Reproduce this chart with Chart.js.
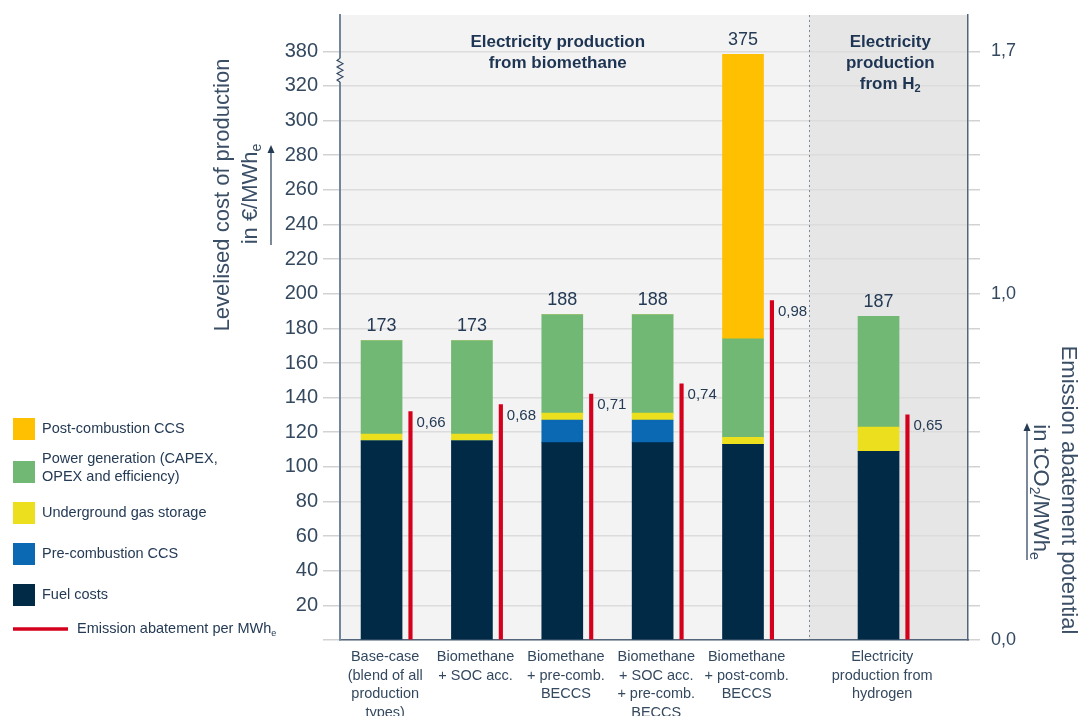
<!DOCTYPE html>
<html>
<head>
<meta charset="utf-8">
<script src="https://cdn.jsdelivr.net/npm/chart.js@4.4.0/dist/chart.umd.min.js"></script>
<style>
  html, body { margin: 0; padding: 0; background: #fff; }
  canvas { display: block; }
</style>
</head>
<body>
<canvas id="lcoeChart" width="1081" height="716"></canvas>
<script>
// x axis categories (one entry per bar, split in lines)
var categories = [
	['Base-case', '(blend of all', 'production', 'types)'],
	['Biomethane', '+ SOC acc.'],
	['Biomethane', '+ pre-comb.', 'BECCS'],
	['Biomethane', '+ SOC acc.', '+ pre-comb.', 'BECCS'],
	['Biomethane', '+ post-comb.', 'BECCS'],
	['Electricity', 'production from', 'hydrogen']
];
// 0 = electricity from biomethane, 1 = electricity from H2
var groupOf = [0, 0, 0, 0, 0, 1];

// levelised cost components, EUR/MWh_e (stacked bottom -> top)
var fuelCosts   = [115, 115, 114, 114, 113, 109];
var preCombCCS  = [0, 0, 13, 13, 0, 0];
var gasStorage  = [4, 4, 4, 4, 4, 14];
var powerGen    = [54, 54, 57, 57, 57, 64];
var postCombCCS = [0, 0, 0, 0, 201, 0];

// emission abatement, tCO2/MWh_e
var abatement = [0.66, 0.68, 0.71, 0.74, 0.98, 0.65];

// tick values
var costTicks = [0, 20, 40, 60, 80, 100, 120, 140, 160, 180, 200, 220, 240, 260, 280, 300, 320, 380];
var abatementTicks = [0, 0.1, 0.2, 0.3, 0.4, 0.5, 0.6, 0.7, 0.8, 0.9, 1, 1.1, 1.2, 1.3, 1.4, 1.5, 1.6, 1.7];
var abatementLabelled = [0, 1, 1.7];

var FONT = "'Liberation Sans', Arial, sans-serif";
var TEXT = '#243a55';
var TICK = '#34495f';
var colors = {
	fuel: '#012a47',
	pre: '#0a69b2',
	storage: '#ebdf1e',
	power: '#70b873',
	post: '#fec000',
	red: '#d5001c'
};

// axis break: everything above 320 is squeezed 3:1
var breakAt = 320, breakRatio = 3;
var squash = function(v) {
	return v <= breakAt ? v : breakAt + (v - breakAt) / breakRatio;
};
var unsquash = function(v) {
	return v <= breakAt ? v : breakAt + (v - breakAt) * breakRatio;
};

class BrokenScale extends Chart.LinearScale {
	getPixelForValue(value) {
		if (value === null || value === undefined || isNaN(value)) return NaN;
		return this.getPixelForDecimal((squash(value) - squash(this.min)) / (squash(this.max) - squash(this.min)));
	}
	getValueForPixel(pixel) {
		var d = this.getDecimalForPixel(pixel);
		return unsquash(squash(this.min) + d * (squash(this.max) - squash(this.min)));
	}
}
BrokenScale.id = 'broken';
BrokenScale.defaults = {};
Chart.register(BrokenScale);

// horizontal layout in "slot" units
var groupGap = 0.5;
var redOffset = 0.32;
var dividerAt = 4.73;
var slot = function(i) { return i + groupOf[i] * groupGap; };

var topCompressed = 361;                 // compressed cost value at top of plot
var yMax = unsquash(topCompressed);
var y2Max = topCompressed / 200;         // 200 EUR/MWh grid line == 1,0 t

var toPoints = function(arr, off) {
	return arr.map(function(v, i) { return { x: slot(i) + (off || 0), y: v }; });
};

var fmt = function(v, d) { return v.toFixed(d).replace('.', ','); };

// fixed axis sizes so the plot sits where the original one does
var fixWidth = function(w) {
	return function(s) {
		s.width = w;
		s.paddingTop = 0;
		s.paddingBottom = 0;
	};
};

/*
* draw a text made of parts, some of them subscript, centred or left aligned at x
*/
function drawRich(ctx, parts, x, y, size, weight, align) {
	var w = 0;
	parts.forEach(function(p) {
		ctx.font = weight + ' ' + (p.sub ? Math.round(size * 0.62) : size) + 'px ' + FONT;
		p.w = ctx.measureText(p.t).width;
		w += p.w;
	});
	var cx = align === 'left' ? x : x - w / 2;
	ctx.textAlign = 'left';
	ctx.textBaseline = 'middle';
	parts.forEach(function(p) {
		ctx.font = weight + ' ' + (p.sub ? Math.round(size * 0.62) : size) + 'px ' + FONT;
		ctx.fillText(p.t, cx, y + (p.sub ? size * 0.3 : 0));
		cx += p.w;
	});
}

function arrowUp(ctx, x, y1, y2) {
	ctx.save();
	ctx.strokeStyle = TEXT;
	ctx.fillStyle = TEXT;
	ctx.lineWidth = 1.2;
	ctx.beginPath();
	ctx.moveTo(x, y1);
	ctx.lineTo(x, y2 + 6);
	ctx.stroke();
	ctx.beginPath();
	ctx.moveTo(x, y2);
	ctx.lineTo(x - 3.5, y2 + 8);
	ctx.lineTo(x + 3.5, y2 + 8);
	ctx.closePath();
	ctx.fill();
	ctx.restore();
}

var decorations = {
	id: 'decorations',
	beforeDraw: function(chart) {
		var ctx = chart.ctx, a = chart.chartArea, xs = chart.scales.x;
		var xd = xs.getPixelForValue(dividerAt);
		ctx.save();
		ctx.fillStyle = '#f3f3f3';
		ctx.fillRect(a.left, a.top, xd - a.left, a.bottom - a.top);
		ctx.fillStyle = '#e6e6e6';
		ctx.fillRect(xd, a.top, a.right - xd, a.bottom - a.top);
		ctx.restore();
	},
	beforeDatasetsDraw: function(chart) {
		var ctx = chart.ctx, a = chart.chartArea, xs = chart.scales.x;
		var xd = Math.round(xs.getPixelForValue(dividerAt)) + 0.5;
		ctx.save();
		ctx.strokeStyle = '#7d8c9c';
		ctx.lineWidth = 1;
		ctx.setLineDash([2, 3]);
		ctx.beginPath();
		ctx.moveTo(xd, a.top);
		ctx.lineTo(xd, a.bottom);
		ctx.stroke();
		ctx.restore();
	},
	afterDatasetsDraw: function(chart) {
		var ctx = chart.ctx, xs = chart.scales.x, ys = chart.scales.y, y2 = chart.scales.y2;
		ctx.save();
		ctx.fillStyle = TEXT;
		// totals above bars
		ctx.font = '18px ' + FONT;
		ctx.textAlign = 'center';
		ctx.textBaseline = 'middle';
		for (var i = 0; i < categories.length; i++) {
			var total = fuelCosts[i] + preCombCCS[i] + gasStorage[i] + powerGen[i] + postCombCCS[i];
			ctx.fillText(String(total), xs.getPixelForValue(slot(i)), ys.getPixelForValue(total) - 14);
		}
		// abatement values next to red lines
		ctx.font = '15px ' + FONT;
		ctx.textAlign = 'left';
		for (var j = 0; j < abatement.length; j++) {
			ctx.fillText(fmt(abatement[j], 2), xs.getPixelForValue(slot(j) + redOffset) + 6, y2.getPixelForValue(abatement[j]) + 11);
		}
		ctx.restore();
	},
	afterDraw: function(chart) {
		var ctx = chart.ctx, a = chart.chartArea, xs = chart.scales.x, ys = chart.scales.y;
		ctx.save();

		// axis break marker
		var zt = ys.getPixelForValue(380) + 9, zb = ys.getPixelForValue(320) - 6;
		ctx.fillStyle = '#f3f3f3';
		ctx.fillRect(a.left - 3, zt - 2, 8, zb - zt + 4);
		ctx.strokeStyle = '#2f4660';
		ctx.lineWidth = 1.1;
		ctx.beginPath();
		ctx.moveTo(a.left, zt - 2);
		var n = 6;
		for (var k = 0; k <= n; k++) {
			ctx.lineTo(a.left + (k % 2 ? 3 : -3), zt + (zb - zt) * k / n);
		}
		ctx.lineTo(a.left, zb + 2);
		ctx.stroke();

		// group headers
		ctx.fillStyle = '#1d3452';
		var hx = xs.getPixelForValue(1.95);
		drawRich(ctx, [{ t: 'Electricity production' }], hx, 42, 17, 'bold');
		drawRich(ctx, [{ t: 'from biomethane' }], hx, 63, 17, 'bold');
		var hx2 = xs.getPixelForValue(5.63);
		drawRich(ctx, [{ t: 'Electricity' }], hx2, 42, 17, 'bold');
		drawRich(ctx, [{ t: 'production' }], hx2, 63, 17, 'bold');
		drawRich(ctx, [{ t: 'from H' }, { t: '2', sub: true }], hx2, 84, 17, 'bold');

		// left axis title
		ctx.fillStyle = '#3a4e66';
		ctx.save();
		ctx.translate(223, 195);
		ctx.rotate(-Math.PI / 2);
		drawRich(ctx, [{ t: 'Levelised cost of production' }], 0, 0, 22, 'normal');
		ctx.restore();
		ctx.save();
		ctx.translate(251, 194);
		ctx.rotate(-Math.PI / 2);
		drawRich(ctx, [{ t: 'in \u20ac/MWh' }, { t: 'e', sub: true }], 0, 0, 22, 'normal');
		ctx.restore();
		arrowUp(ctx, 271, 245, 145);

		// right axis title
		ctx.save();
		ctx.translate(1068, 490);
		ctx.rotate(Math.PI / 2);
		drawRich(ctx, [{ t: 'Emission abatement potential' }], 0, 0, 22, 'normal');
		ctx.restore();
		ctx.save();
		ctx.translate(1040, 492);
		ctx.rotate(Math.PI / 2);
		drawRich(ctx, [{ t: 'in tCO' }, { t: '2', sub: true }, { t: '/MWh' }, { t: 'e', sub: true }], 0, 0, 22, 'normal');
		ctx.restore();
		arrowUp(ctx, 1027, 560, 423);

		// legend
		var rows = [
			{ c: colors.post, y: 429, lines: ['Post-combustion CCS'] },
			{ c: colors.power, y: 472, lines: ['Power generation (CAPEX,', 'OPEX and efficiency)'] },
			{ c: colors.storage, y: 513, lines: ['Underground gas storage'] },
			{ c: colors.pre, y: 554, lines: ['Pre-combustion CCS'] },
			{ c: colors.fuel, y: 595, lines: ['Fuel costs'] }
		];
		rows.forEach(function(r) {
			ctx.fillStyle = r.c;
			ctx.fillRect(13, r.y - 11, 22, 22);
			ctx.fillStyle = TEXT;
			var y0 = r.y - (r.lines.length - 1) * 9 - (r.lines.length > 1 ? 4 : 0);
			r.lines.forEach(function(l, li) {
				drawRich(ctx, [{ t: l }], 42, y0 + li * 18, 14.5, 'normal', 'left');
			});
		});
		ctx.strokeStyle = colors.red;
		ctx.lineWidth = 3.5;
		ctx.beginPath();
		ctx.moveTo(13, 629);
		ctx.lineTo(68, 629);
		ctx.stroke();
		ctx.fillStyle = TEXT;
		drawRich(ctx, [{ t: 'Emission abatement per MWh' }, { t: 'e', sub: true }], 77, 629, 14.5, 'normal', 'left');

		ctx.restore();
	}
};

var barCommon = { grouped: false, barThickness: 41, yAxisID: 'y' };

var ctx = document.getElementById('lcoeChart');
var lcoeChart = new Chart(ctx, {
	type: 'bar',
	data: {
		datasets: [
			Object.assign({ label: 'Fuel costs', data: toPoints(fuelCosts), backgroundColor: colors.fuel }, barCommon),
			Object.assign({ label: 'Pre-combustion CCS', data: toPoints(preCombCCS), backgroundColor: colors.pre }, barCommon),
			Object.assign({ label: 'Underground gas storage', data: toPoints(gasStorage), backgroundColor: colors.storage }, barCommon),
			Object.assign({ label: 'Power generation (CAPEX, OPEX and efficiency)', data: toPoints(powerGen), backgroundColor: colors.power }, barCommon),
			Object.assign({ label: 'Post-combustion CCS', data: toPoints(postCombCCS), backgroundColor: colors.post }, barCommon),
			{
				label: 'Emission abatement per MWh',
				data: toPoints(abatement, redOffset),
				backgroundColor: colors.red,
				grouped: false,
				barThickness: 3.5,
				yAxisID: 'y2'
			}
		]
	},
	options: {
		responsive: false,
		devicePixelRatio: 1,
		animation: false,
		layout: { padding: { top: 15, left: 0, right: 0, bottom: 0 } },
		plugins: {
			legend: { display: false },
			tooltip: { enabled: false }
		},
		scales: {
			x: {
				type: 'linear',
				offset: false,
				min: -0.46,
				max: 6.49,
				grid: { display: false, offset: false },
				border: { display: true, color: '#53657a', width: 1.5 },
				afterBuildTicks: function(s) {
					s.ticks = categories.map(function(c, i) { return { value: slot(i) + 0.04 }; });
				},
				afterFit: function(s) { s.height = 76; },
				ticks: {
					autoSkip: false,
					maxRotation: 0,
					padding: 0,
					color: TICK,
					font: { family: FONT, size: 14.5, lineHeight: 1.28 },
					callback: function(v, i) { return categories[i]; }
				}
			},
			y: {
				type: 'broken',
				position: 'left',
				stacked: true,
				min: 0,
				max: yMax,
				grid: { color: '#dcdcdc', lineWidth: 1.5, tickLength: 17, tickColor: '#d2d2d2' },
				border: { color: '#70869a', width: 2 },
				afterBuildTicks: function(s) {
					s.ticks = costTicks.map(function(v) { return { value: v }; });
				},
				afterFit: fixWidth(340),
				ticks: {
					padding: 5,
					color: TICK,
					font: { family: FONT, size: 20 },
					callback: function(v) { return v === 0 ? '' : String(v); }
				}
			},
			y2: {
				type: 'linear',
				position: 'right',
				min: 0,
				max: y2Max,
				grid: { drawOnChartArea: false, tickLength: 12, color: '#d2d2d2', lineWidth: 1.5 },
				border: { color: '#53657a', width: 1.5 },
				afterBuildTicks: function(s) {
					s.ticks = abatementTicks.map(function(v) { return { value: v }; });
				},
				afterFit: fixWidth(113),
				ticks: {
					padding: 11,
					color: TICK,
					font: { family: FONT, size: 18 },
					callback: function(v) { return abatementLabelled.indexOf(v) >= 0 ? fmt(v, 1) : ''; }
				}
			}
		}
	},
	plugins: [decorations]
});
</script>
</body>
</html>
